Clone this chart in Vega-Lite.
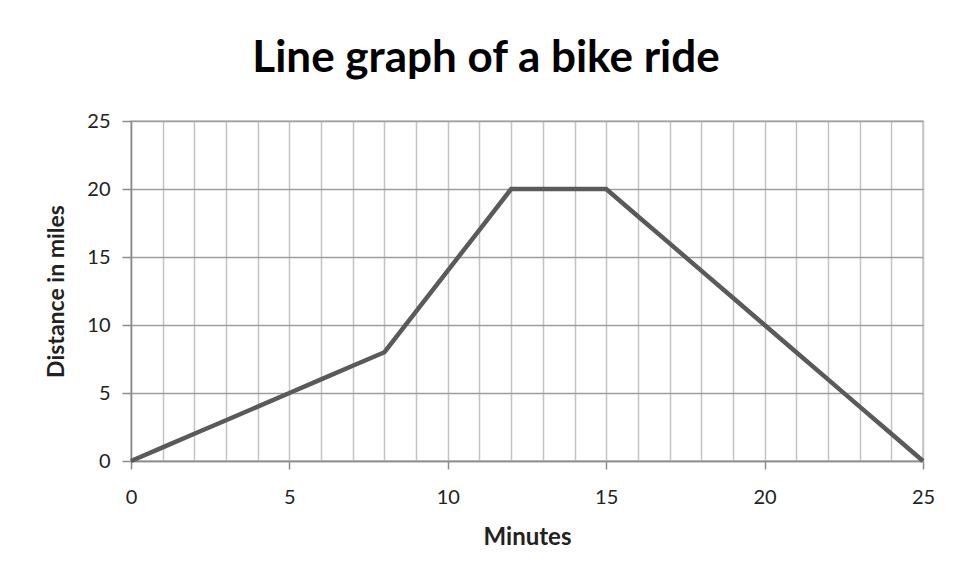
{
  "$schema": "https://vega.github.io/schema/vega-lite/v6.json",
  "autosize": "none",
  "width": 792,
  "height": 340,
  "padding": {"left": 131, "top": 121, "right": 47, "bottom": 121},
  "background": "white",
  "title": {
    "text": "Line graph of a bike ride",
    "font": "Lato",
    "fontSize": 44,
    "fontWeight": "bold",
    "color": "#000000",
    "anchor": "middle",
    "dx": -41,
    "offset": 30
  },
  "data": {
    "values": [
      {"minutes": 0, "miles": 0},
      {"minutes": 1, "miles": 1},
      {"minutes": 2, "miles": 2},
      {"minutes": 3, "miles": 3},
      {"minutes": 4, "miles": 4},
      {"minutes": 5, "miles": 5},
      {"minutes": 6, "miles": 6},
      {"minutes": 7, "miles": 7},
      {"minutes": 8, "miles": 8},
      {"minutes": 9, "miles": 11},
      {"minutes": 10, "miles": 14},
      {"minutes": 11, "miles": 17},
      {"minutes": 12, "miles": 20},
      {"minutes": 13, "miles": 20},
      {"minutes": 14, "miles": 20},
      {"minutes": 15, "miles": 20},
      {"minutes": 16, "miles": 18},
      {"minutes": 17, "miles": 16},
      {"minutes": 18, "miles": 14},
      {"minutes": 19, "miles": 12},
      {"minutes": 20, "miles": 10},
      {"minutes": 21, "miles": 8},
      {"minutes": 22, "miles": 6},
      {"minutes": 23, "miles": 4},
      {"minutes": 24, "miles": 2},
      {"minutes": 25, "miles": 0}
    ]
  },
  "mark": {"type": "line", "color": "#5A5A5A", "strokeWidth": 4.5, "strokeJoin": "miter", "clip": false},
  "encoding": {
    "x": {
      "field": "minutes",
      "type": "quantitative",
      "scale": {"domain": [0, 25], "nice": false, "zero": true},
      "axis": {
        "title": "Minutes",
        "values": [0,1,2,3,4,5,6,7,8,9,10,11,12,13,14,15,16,17,18,19,20,21,22,23,24,25],
        "labelExpr": "datum.value % 5 === 0 ? datum.label : ''",
        "labelFont": "Lato",
        "labelFontSize": 20,
        "labelColor": "#222222",
        "labelPadding": 18,
        "labelFlush": false,
        "labelOverlap": false,
        "tickSize": 8,
        "tickWidth": 1.5,
        "tickColor": "#8C8C8C",
        "tickOpacity": {"condition": {"test": "datum.value % 5 === 0", "value": 1}, "value": 0},
        "domainColor": "#8C8C8C",
        "domainWidth": 1.5,
        "grid": true,
        "gridColor": "#C4C4C4",
        "gridWidth": 1.5,
        "titleFont": "Lato",
        "titleFontSize": 24,
        "titleFontWeight": "bold",
        "titleColor": "#222222",
        "titlePadding": 18
      }
    },
    "y": {
      "field": "miles",
      "type": "quantitative",
      "scale": {"domain": [0, 25], "nice": false},
      "axis": {
        "title": "Distance in miles",
        "values": [0, 5, 10, 15, 20, 25],
        "labelFont": "Lato",
        "labelFontSize": 20,
        "labelColor": "#222222",
        "labelPadding": 12,
        "labelFlush": false,
        "tickSize": 9,
        "tickWidth": 1.5,
        "tickColor": "#8C8C8C",
        "domainColor": "#8C8C8C",
        "domainWidth": 1.5,
        "grid": true,
        "gridColor": "#9E9E9E",
        "gridWidth": 1.5,
        "titleFont": "Lato",
        "titleFontSize": 23,
        "titleFontWeight": "bold",
        "titleColor": "#222222",
        "titlePadding": 18
      }
    }
  },
  "config": {
    "view": {"stroke": "#C4C4C4", "strokeWidth": 1.5}
  }
}
